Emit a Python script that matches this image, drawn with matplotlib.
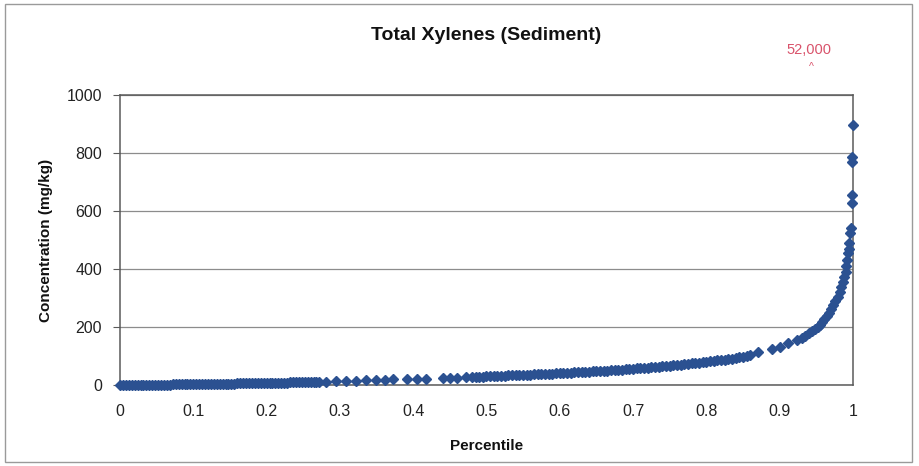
import matplotlib
matplotlib.use("Agg")
import matplotlib.pyplot as plt
from matplotlib.patches import Rectangle
import numpy as np

plt.rcParams['font.family'] = ['Liberation Sans', 'DejaVu Sans']

# Percentile / concentration pairs (mg/kg), grouped by stretch of the curve
pct_low = [0.000, 0.004, 0.008, 0.012, 0.016, 0.020, 0.024, 0.028, 0.032, 0.036,
           0.040, 0.044, 0.048, 0.052, 0.056, 0.060, 0.064, 0.068, 0.072, 0.076,
           0.080, 0.084, 0.088, 0.092, 0.096, 0.100, 0.104, 0.108, 0.112, 0.116,
           0.120, 0.124, 0.128, 0.132, 0.136, 0.140, 0.144, 0.148, 0.152, 0.156,
           0.160, 0.164, 0.168, 0.172, 0.176, 0.180, 0.184, 0.188, 0.192, 0.196,
           0.200, 0.204, 0.208, 0.212, 0.216, 0.220, 0.224, 0.228, 0.232, 0.236,
           0.240, 0.244, 0.248, 0.252, 0.256, 0.260, 0.264, 0.268, 0.272]
conc_low = [0.1, 0.2, 0.3, 0.4, 0.5, 0.6, 0.7, 0.8, 0.9, 1.0,
            1.0, 1.1, 1.2, 1.3, 1.4, 1.5, 1.6, 1.7, 1.8, 1.9,
            2.0, 2.1, 2.2, 2.3, 2.4, 2.5, 2.6, 2.8, 3.0, 3.1,
            3.3, 3.5, 3.6, 3.8, 4.0, 4.2, 4.4, 4.6, 4.8, 5.0,
            5.2, 5.4, 5.6, 5.8, 6.0, 6.2, 6.4, 6.6, 6.8, 7.0,
            7.2, 7.4, 7.6, 7.8, 8.0, 8.2, 8.4, 8.6, 8.8, 9.0,
            9.2, 9.4, 9.6, 9.8, 10.0, 10.2, 10.5, 10.8, 11.0]

pct_gap = [0.281, 0.295, 0.308, 0.322, 0.336, 0.349, 0.362, 0.373, 0.392, 0.405,
           0.418, 0.440, 0.450, 0.460, 0.472]
conc_gap = [12, 13, 14, 15, 16, 17, 18, 19, 20, 21,
            22, 23, 24, 25, 26]

pct_mid = [0.480, 0.485, 0.490, 0.495, 0.500, 0.505, 0.510, 0.515, 0.520, 0.525,
           0.530, 0.535, 0.540, 0.545, 0.550, 0.555, 0.560, 0.565, 0.570, 0.575,
           0.580, 0.585, 0.590, 0.595, 0.600, 0.605, 0.610, 0.615, 0.620, 0.625,
           0.630, 0.635, 0.640, 0.645, 0.650, 0.655, 0.660, 0.665, 0.670, 0.675,
           0.680, 0.685, 0.690, 0.695, 0.700, 0.705, 0.710, 0.715, 0.720, 0.725,
           0.730, 0.735, 0.740, 0.745, 0.750, 0.755, 0.760, 0.765, 0.770, 0.775,
           0.780, 0.785, 0.790, 0.795, 0.800, 0.805, 0.810, 0.815, 0.820, 0.825,
           0.830, 0.835, 0.840, 0.845, 0.850, 0.855, 0.860]
conc_mid = [27.0, 27.5, 28.2, 29.0, 30.0, 30.5, 31.0, 31.5, 32.0, 32.5,
            33.0, 33.5, 34.0, 34.5, 35.0, 35.5, 36.0, 36.6, 37.2, 37.8,
            38.4, 39.0, 39.5, 40.0, 40.6, 41.3, 42.0, 42.7, 43.4, 44.0,
            44.7, 45.4, 46.0, 46.7, 47.4, 48.2, 49.0, 49.8, 50.6, 51.4,
            52.2, 53.0, 54.0, 55.0, 56.0, 57.0, 58.0, 59.0, 60.0, 61.0,
            62.0, 63.0, 64.2, 65.4, 66.6, 67.8, 69.0, 70.3, 71.6, 73.0,
            74.4, 75.8, 77.2, 78.6, 80.0, 81.5, 83.0, 84.5, 86.0, 87.6,
            89.2, 91.0, 93.0, 95.0, 97.5, 100.0, 103.0]

pct_high = [0.870, 0.889, 0.900, 0.912, 0.923, 0.930, 0.935, 0.940, 0.944, 0.948,
            0.952, 0.955, 0.958, 0.961, 0.964, 0.967, 0.970, 0.973, 0.976, 0.979,
            0.982, 0.984, 0.986, 0.988, 0.990, 0.991, 0.992, 0.993, 0.994, 0.995,
            0.996, 0.997, 0.998, 0.998, 0.999, 0.999, 1.000]
conc_high = [114, 124, 131, 145, 155, 162, 170, 178, 185, 192,
             200, 208, 218, 228, 238, 250, 262, 275, 290, 305,
             320, 338, 355, 372, 390, 410, 430, 455, 470, 490,
             524, 541, 627, 655, 769, 786, 897]

x_ticks = [0, 0.1, 0.2, 0.3, 0.4, 0.5, 0.6, 0.7, 0.8, 0.9, 1]
x_tick_labels = ["0", "0.1", "0.2", "0.3", "0.4", "0.5", "0.6", "0.7", "0.8", "0.9", "1"]
y_ticks = [0, 200, 400, 600, 800, 1000]
off_scale_label = "52,000"

percentile = np.concatenate([pct_low, pct_gap, pct_mid, pct_high])
concentration = np.concatenate([conc_low, conc_gap, conc_mid, conc_high])

fig = plt.figure(figsize=(9.2, 4.66), dpi=100)
fig.patch.set_facecolor("white")

# outer chart frame
fig.add_artist(Rectangle((5 / 920, 4 / 466), 907 / 920, 458 / 466,
                         transform=fig.transFigure, fill=False,
                         edgecolor="#9a9a9a", linewidth=1.0))

ax = fig.add_axes([120 / 920, 1 - 385 / 466, 733 / 920, 290 / 466])
ax.set_xlim(0, 1)
ax.set_ylim(0, 1000)

ax.set_yticks(y_ticks)
ax.set_xticks(x_ticks)
ax.set_xticklabels(x_tick_labels)
ax.yaxis.grid(True, color="#8c8c8c", linewidth=0.9)
ax.set_axisbelow(True)

for side in ["left", "bottom", "right", "top"]:
    ax.spines[side].set_color("#5a5a5a")
    ax.spines[side].set_linewidth(1.1)

ax.tick_params(axis="y", direction="out", length=5, color="#5a5a5a",
               labelsize=11.5, pad=8, labelcolor="#222222")
ax.tick_params(axis="x", length=0, labelsize=11.5, pad=14, labelcolor="#222222")

ax.plot(percentile, concentration, linestyle="none", marker="D",
        markersize=5.0, color="#2b5191", markeredgecolor="#2b5191",
        clip_on=False, zorder=3)

fig.text(486 / 920, 1 - 36 / 466, "Total Xylenes (Sediment)", fontsize=14,
         fontweight="bold", ha="center", va="center", color="#111111")
ax.set_xlabel("Percentile", fontsize=11, fontweight="bold", labelpad=14,
              color="#111111")
ax.set_ylabel("Concentration (mg/kg)", fontsize=11, fontweight="bold",
              labelpad=10, color="#111111")

# off-scale maximum noted above the plot
ax.annotate(off_scale_label, xy=(0.94, 1000), xycoords="data",
            xytext=(0.94, 1155), textcoords="data", ha="center", va="center",
            fontsize=10.5, color="#d9536b", annotation_clip=False)
ax.annotate("^", xy=(0.94, 1000), xycoords="data",
            xytext=(0.943, 1095), textcoords="data", ha="center", va="center",
            fontsize=7.5, color="#d9536b", annotation_clip=False)

fig.savefig("out.png", dpi=100, facecolor="white")
